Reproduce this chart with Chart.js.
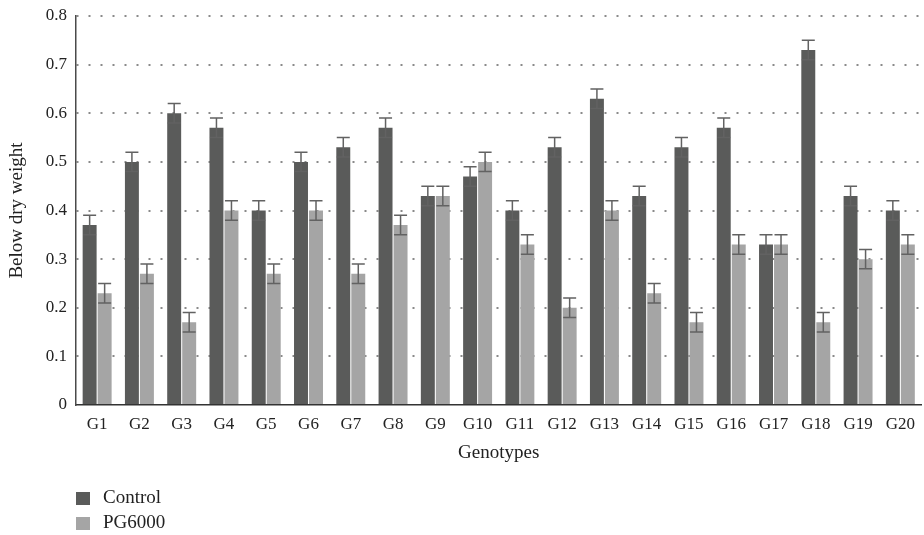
<!DOCTYPE html>
<html>
<head>
<meta charset="utf-8">
<script src="https://cdn.jsdelivr.net/npm/chart.js@4.4.1/dist/chart.umd.min.js"></script>
<style>
    body { margin: 0; background: #fff; }
    #wrap { width: 924px; height: 535px; position: relative; }
</style>
</head>
<body>
<div id="wrap"><canvas id="chart"></canvas></div>
<script>
const genotypes = ['G1', 'G2', 'G3', 'G4', 'G5', 'G6', 'G7', 'G8', 'G9', 'G10',
    'G11', 'G12', 'G13', 'G14', 'G15', 'G16', 'G17', 'G18', 'G19', 'G20'];
const control = [0.37, 0.50, 0.60, 0.57, 0.40, 0.50, 0.53, 0.57, 0.43, 0.47,
    0.40, 0.53, 0.63, 0.43, 0.53, 0.57, 0.33, 0.73, 0.43, 0.40];
const pg6000 = [0.23, 0.27, 0.17, 0.40, 0.27, 0.40, 0.27, 0.37, 0.43, 0.50,
    0.33, 0.20, 0.40, 0.23, 0.17, 0.33, 0.33, 0.17, 0.30, 0.33];
const controlErr = [0.02, 0.02, 0.02, 0.02, 0.02, 0.02, 0.02, 0.02, 0.02, 0.02,
    0.02, 0.02, 0.02, 0.02, 0.02, 0.02, 0.02, 0.02, 0.02, 0.02];
const pg6000Err = [0.02, 0.02, 0.02, 0.02, 0.02, 0.02, 0.02, 0.02, 0.02, 0.02,
    0.02, 0.02, 0.02, 0.02, 0.02, 0.02, 0.02, 0.02, 0.02, 0.02];
const yTicks = [0, 0.1, 0.2, 0.3, 0.4, 0.5, 0.6, 0.7, 0.8];

const FONT = "'Liberation Serif', 'Times New Roman', serif";

// error bars with caps on both ends
const errorBars = {
    id: 'errorBars',
    afterDatasetsDraw(chart) {
        const ctx = chart.ctx;
        const y = chart.scales.y;
        ctx.save();
        ctx.strokeStyle = '#626262';
        ctx.lineWidth = 1.5;
        chart.data.datasets.forEach((ds, i) => {
            const meta = chart.getDatasetMeta(i);
            meta.data.forEach((bar, j) => {
                const v = ds.data[j], e = ds.errors[j];
                const top = y.getPixelForValue(v + e);
                const bot = y.getPixelForValue(v - e);
                const x = bar.x;
                ctx.beginPath();
                ctx.moveTo(x, top); ctx.lineTo(x, bot);
                ctx.moveTo(x - 6.5, top); ctx.lineTo(x + 6.5, top);
                ctx.moveTo(x - 6.5, bot); ctx.lineTo(x + 6.5, bot);
                ctx.stroke();
            });
        });
        ctx.restore();
    }
};

// legend stacked under the chart, left aligned with the plot
const stackedLegend = {
    id: 'stackedLegend',
    afterDraw(chart) {
        const ctx = chart.ctx;
        const left = chart.chartArea.left;
        ctx.save();
        ctx.font = '19px ' + FONT;
        ctx.textBaseline = 'middle';
        chart.data.datasets.forEach((ds, i) => {
            const cy = 498 + i * 25;
            ctx.fillStyle = ds.backgroundColor;
            ctx.fillRect(left, cy - 6, 14, 13);
            ctx.fillStyle = '#222';
            ctx.fillText(ds.label, left + 27, cy);
        });
        ctx.restore();
    }
};

new Chart(document.getElementById('chart'), {
    type: 'bar',
    data: {
        labels: genotypes,
        datasets: [
            { label: 'Control', data: control, errors: controlErr, backgroundColor: '#5a5b5a' },
            { label: 'PG6000', data: pg6000, errors: pg6000Err, backgroundColor: '#a5a5a5' }
        ]
    },
    options: {
        responsive: true,
        maintainAspectRatio: false,
        animation: false,
        categoryPercentage: 0.71,
        barPercentage: 0.93,
        layout: { padding: { top: 16, right: 1, left: 0, bottom: 0 } },
        plugins: {
            legend: { display: false },
            tooltip: { enabled: false }
        },
        scales: {
            x: {
                grid: { display: false, drawTicks: false },
                border: { display: true, color: '#333', width: 1.5 },
                ticks: { color: '#222', font: { family: FONT, size: 17 }, padding: 9, maxRotation: 0, autoSkip: false },
                title: { display: true, text: 'Genotypes', color: '#222', font: { family: FONT, size: 19 }, padding: { top: 0, bottom: 71 } },
                afterFit(scale) { scale.height = 130; }
            },
            y: {
                min: 0,
                max: 0.8,
                afterBuildTicks(scale) { scale.ticks = yTicks.map(v => ({ value: v })); },
                grid: {
                    drawTicks: false,
                    color: ctx => ctx.tick && ctx.tick.value === 0 ? 'rgba(0,0,0,0)' : '#8a8a8a',
                    lineWidth: 2
                },
                border: { display: true, color: '#4a4a4a', width: 1.5, dash: [2, 10] },
                ticks: {
                    color: '#222',
                    font: { family: FONT, size: 17 },
                    padding: 9,
                    callback: v => String(Math.round(v * 10) / 10)
                },
                title: { display: true, text: 'Below dry weight', color: '#222', font: { family: FONT, size: 19 }, padding: { top: 6, bottom: 0 } },
                afterFit(scale) {
                    scale.width = 76;
                    scale.paddingTop = 0;
                    scale.paddingBottom = 0;
                }
            }
        }
    },
    plugins: [errorBars, stackedLegend]
});
</script>
</body>
</html>
